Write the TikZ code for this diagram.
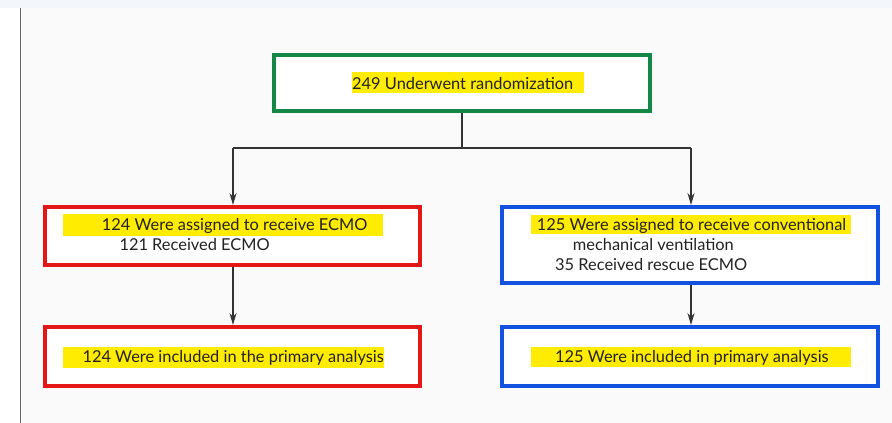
\documentclass[tikz,border=0pt]{standalone}
\usepackage{fontspec}
\setmainfont{Lato}
\usetikzlibrary{arrows.meta}
\definecolor{bggray}{HTML}{FAFAFA}
\definecolor{topstrip}{HTML}{F3F6FA}
\definecolor{boxgreen}{RGB}{20,135,70}
\definecolor{boxred}{RGB}{228,22,22}
\definecolor{boxblue}{RGB}{18,82,222}
\definecolor{hl}{RGB}{255,236,0}
\definecolor{txt}{HTML}{222222}
\definecolor{conn}{HTML}{333333}
\tikzset{
  flowbox/.style={draw, line width=4pt, fill=white, inner sep=0pt},
  lbl/.style={anchor=base west, inner sep=0pt, text=txt, font=\fontsize{16.4}{19}\selectfont},
  conline/.style={draw=conn, line width=1.5pt},
  arr/.style={conline, -{Stealth[length=12pt,width=7pt]}},
}
\begin{document}
\begin{tikzpicture}[x=1pt,y=-1pt]
\useasboundingbox (0,0) rectangle (892,423);
% background
\fill[bggray] (0,0) rectangle (892,423);
\fill[white] (0,0) rectangle (20,423);
\fill[topstrip] (0,0) rectangle (892,8);
\draw[gray!80!black, line width=1.5pt] (20.5,8) -- (20.5,423);

% boxes
\node[flowbox, draw=boxgreen, minimum width=376pt, minimum height=56pt] (g) at (462,83) {};
\node[flowbox, draw=boxred, minimum width=375pt, minimum height=58pt] (r1) at (232.5,236) {};
\node[flowbox, draw=boxblue, minimum width=376pt, minimum height=76pt] (b1) at (690,245) {};
\node[flowbox, draw=boxred, minimum width=375pt, minimum height=59pt] (r2) at (232.5,356.5) {};
\node[flowbox, draw=boxblue, minimum width=376pt, minimum height=59pt] (b2) at (690,356.5) {};

% highlights
\fill[hl] (351.7,72.3) rectangle (584,93.3);
\fill[hl] (63.3,214.3) rectangle (383.3,235.7);
\fill[hl] (530.7,215) rectangle (850.7,234);
\fill[hl] (63.3,346.7) rectangle (384,367.7);
\fill[hl] (530.7,346.7) rectangle (851,367.3);

% texts
\node[lbl] (tg) at (352,89) {249 Underwent randomization};
\node[lbl] (tr1a) at (101.7,230) {124 Were assigned to receive ECMO};
\node[lbl] (tr1b) at (119.3,250) {121 Received ECMO};
\node[lbl] (tb1a) at (536.7,230) {125 Were assigned to receive conventional};
\node[lbl] (tb1b) at (572.7,250) {mechanical ventilation};
\node[lbl] (tb1c) at (555,270) {35 Received rescue ECMO};
\node[lbl] (tr2) at (82.3,362.7) {124 Were included in the primary analysis};
\node[lbl] (tb2) at (555,362.7) {125 Were included in primary analysis};

% connectors
\coordinate (j) at (462,148);
\coordinate (jl) at (233,148);
\coordinate (jr) at (691,148);
\draw[conline] (g.south) -- (j);
\draw[conline] (jl) -- (jr);
\draw[arr] (jl) -- (jl |- r1.north);
\draw[arr] (jr) -- (jr |- b1.north);
\draw[arr] (r1.south -| jl) -- (r2.north -| jl);
\draw[arr] (b1.south -| jr) -- (b2.north -| jr);
\end{tikzpicture}
\end{document}
